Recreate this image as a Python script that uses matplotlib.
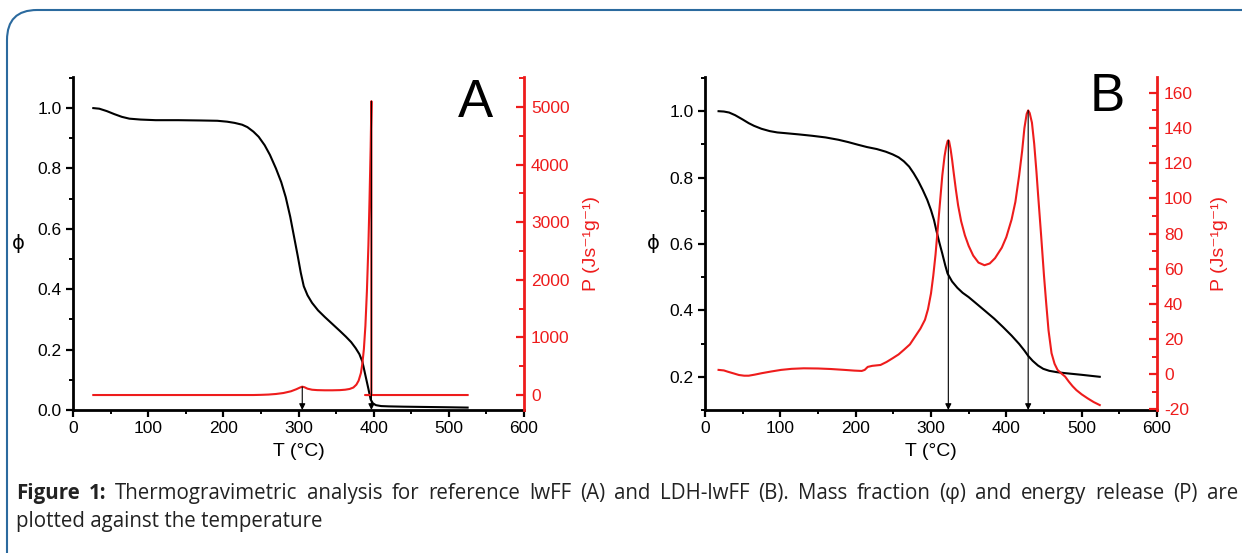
import matplotlib
matplotlib.use("Agg")
import matplotlib.pyplot as plt
from matplotlib.patches import FancyBboxPatch
from matplotlib.ticker import MultipleLocator, FormatStrFormatter

# ---------------- data ----------------
# Panel A (reference lwFF)
A_T_phi = [27, 35, 45, 55, 65, 75, 90, 110, 140, 170, 192, 205, 215, 225, 232, 240, 247, 255, 262, 270,
           277, 283, 289, 294, 299, 303, 307, 312, 318, 326, 335, 345, 355, 363, 370, 376, 381, 385, 389,
           393, 396, 399, 403, 410, 420, 440, 470, 500, 525]
A_phi = [1.0, 0.998, 0.990, 0.980, 0.971, 0.965, 0.962, 0.960, 0.960, 0.959, 0.958, 0.955, 0.951, 0.945,
         0.937, 0.922, 0.905, 0.877, 0.845, 0.80, 0.755, 0.705, 0.64, 0.575, 0.51, 0.455, 0.41, 0.38, 0.355,
         0.33, 0.308, 0.285, 0.262, 0.243, 0.225, 0.205, 0.185, 0.160, 0.115, 0.07, 0.035, 0.022, 0.016,
         0.013, 0.012, 0.011, 0.010, 0.009, 0.008]
A_T_P = [27, 100, 200, 240, 250, 260, 270, 280, 290, 297, 302, 305, 308, 312, 318, 325, 335, 345, 355, 362,
         368, 373, 377, 380, 383, 385, 387, 389, 391, 393, 394.5, 396, 397, 397, 389, 450, 525]
A_P = [0, 0, 0, 0, 3, 8, 18, 35, 65, 100, 130, 145, 135, 110, 92, 85, 82, 82, 85, 92,
       105, 130, 180, 250, 380, 550, 800, 1200, 1800, 2600, 3400, 4300, 5100, 0, 0, 0, 0]
A_arrows_T = [305, 397]
A_arrows_P = [140, 5100]

# Panel B (LDH-lwFF)
B_T_phi = [18, 25, 32, 40, 50, 58, 65, 75, 86, 96, 106, 125, 142, 160, 177, 190, 203, 215, 228, 240, 249,
           257, 264, 271, 277, 283, 289, 295, 300, 304, 307, 311, 315, 319, 322, 328, 335, 342, 350, 360,
           371, 384, 396, 407, 417, 424, 429, 435, 442, 449, 457, 467, 478, 500, 524]
B_phi = [1.0, 0.999, 0.996, 0.988, 0.975, 0.964, 0.956, 0.947, 0.940, 0.936, 0.934, 0.930, 0.926, 0.921,
         0.914, 0.907, 0.899, 0.892, 0.886, 0.878, 0.870, 0.861, 0.849, 0.833, 0.813, 0.790, 0.763, 0.733,
         0.702, 0.672, 0.642, 0.605, 0.571, 0.535, 0.511, 0.487, 0.468, 0.453, 0.440, 0.421, 0.400, 0.375,
         0.349, 0.324, 0.299, 0.279, 0.263, 0.248, 0.234, 0.224, 0.218, 0.214, 0.211, 0.206, 0.200]
B_T_P = [18, 25, 30, 38, 45, 52, 58, 66, 75, 88, 101, 115, 131, 150, 167, 185, 198, 208, 212, 216, 222,
         233, 241, 249, 257, 264, 272, 279, 286, 292, 296, 300, 303, 306, 309, 312, 315, 318, 320, 322,
         323, 324, 326, 328, 330, 333, 336, 340, 345, 350, 356, 363, 371, 378, 385, 394, 400, 407, 412,
         417, 421, 424, 427, 429, 431, 434, 437, 440, 442, 446, 450, 453, 456, 460, 464, 468, 473, 478,
         483, 488, 493, 500, 508, 516, 524]
B_P = [2.5, 2.2, 1.5, 0.5, -0.4, -0.8, -0.8, -0.2, 0.6, 1.6, 2.5, 3.1, 3.4, 3.3, 3.0, 2.5, 2.1, 1.9, 2.5,
       4.2, 4.8, 5.3, 7.0, 9.1, 11.3, 13.9, 17, 21.5, 26, 31, 37, 46, 56, 68, 83, 98, 113, 124, 129, 132.5,
       133, 132.5, 128, 122, 115, 105, 96, 87, 79, 73, 67.5, 63.5, 62, 63, 66, 72, 78, 88, 98,
       113, 127, 140, 148, 150, 148.5, 143, 131, 115, 103, 80, 56, 40, 25, 12, 6, 2.5, 0.5, -1.3,
       -4.2, -6.8, -9, -11.4, -13.7, -15.8, -17.5]
B_arrows_T = [323, 429]
B_arrows_P = [133, 150]

RED = '#ee1c1c'

plt.rcParams['font.family'] = ['Liberation Sans', 'DejaVu Sans']
plt.rcParams['axes.unicode_minus'] = False

W, H = 1242, 553
fig = plt.figure(figsize=(W / 100, H / 100), dpi=100)


def make_panel(rect, Tphi, phi, TP, P, arT, arP, phi_lim, phi_major, phi_minor,
               P_lim, P_major, P_minor, letter, letter_xy, phi_pad, p_pad):
    ax = fig.add_axes(rect)
    ax.plot(Tphi, phi, color='black', lw=1.5, zorder=3)
    ax.set_xlim(0, 600)
    ax.set_ylim(*phi_lim)
    ax.xaxis.set_major_locator(MultipleLocator(100))
    ax.xaxis.set_minor_locator(MultipleLocator(50))
    ax.yaxis.set_major_locator(MultipleLocator(phi_major))
    ax.yaxis.set_minor_locator(MultipleLocator(phi_minor))
    ax.yaxis.set_major_formatter(FormatStrFormatter('%.1f'))
    for s in ['top', 'right']:
        ax.spines[s].set_visible(False)
    for s in ['left', 'bottom']:
        ax.spines[s].set_linewidth(2.0)
    ax.tick_params(which='major', direction='out', length=5, width=1.6, labelsize=12.5, colors='black', pad=3)
    ax.tick_params(which='minor', direction='out', length=3, width=1.4)
    ax.set_xlabel('T (°C)', fontsize=14, labelpad=5)
    ax.set_ylabel('ϕ', fontsize=14, labelpad=phi_pad, rotation=0, va='center',
                  family=['DejaVu Sans'])
    ax.patch.set_alpha(0)

    ax2 = ax.twinx()
    ax2.plot(TP, P, color=RED, lw=1.5, zorder=2)
    ax2.set_ylim(*P_lim)
    ax2.yaxis.set_major_locator(MultipleLocator(P_major))
    ax2.yaxis.set_minor_locator(MultipleLocator(P_minor))
    for s in ['top', 'left', 'bottom']:
        ax2.spines[s].set_visible(False)
    ax2.spines['right'].set_color(RED)
    ax2.spines['right'].set_linewidth(2.0)
    ax2.tick_params(which='major', direction='in', length=6, width=1.6, labelsize=12.5,
                    colors=RED, pad=5)
    ax2.tick_params(which='minor', direction='in', length=3.5, width=1.4, colors=RED)
    ax2.set_ylabel('P (Js⁻¹g⁻¹)', fontsize=14, color=RED, labelpad=p_pad)

    for t, p in zip(arT, arP):
        ax2.annotate('', xy=(t, P_lim[0]), xytext=(t, p),
                     arrowprops=dict(arrowstyle='-|>', color='black', lw=0.8,
                                     mutation_scale=9, shrinkA=0, shrinkB=0))
    fig.text(letter_xy[0] / W, 1 - letter_xy[1] / H, letter, fontsize=38,
             ha='center', va='center', color='black')
    return ax, ax2


make_panel([73 / W, 1 - 410 / H, 451 / W, 333 / H], A_T_phi, A_phi, A_T_P, A_P,
           A_arrows_T, A_arrows_P, (0, 1.103), 0.2, 0.1, (-260, 5520), 1000, 500,
           'A', (475, 103), 14, 10)
make_panel([705 / W, 1 - 410 / H, 452 / W, 333 / H], B_T_phi, B_phi, B_T_P, B_P,
           B_arrows_T, B_arrows_P, (0.1, 1.103), 0.2, 0.1, (-20.3, 169), 20, 10,
           'B', (1107, 97), 12, 13)

# rounded border
box = FancyBboxPatch((7, -30), 1270, 543 + 30,
                     boxstyle='round,pad=0,rounding_size=30',
                     transform=None, fill=False, edgecolor='#2b6a9e', lw=1.5)
fig.patches.append(box)

# caption, justified first line
renderer = fig.canvas.get_renderer()
cap_words = ("Figure 1: Thermogravimetric analysis for reference lwFF (A) and LDH-lwFF (B). "
             "Mass fraction (φ) and energy release (P) are").split(' ')
cap_fs = 14.8
x_start, x_end = 16, 1238
objs = []
for i, w in enumerate(cap_words):
    t = fig.text(0, 1 - 499 / H, w, fontsize=cap_fs, family=['Open Sans', 'DejaVu Sans'],
                 fontweight='bold' if i < 2 else 'normal', color='#222222',
                 va='baseline', ha='left')
    objs.append(t)
widths = [o.get_window_extent(renderer).width for o in objs]
gap = (x_end - x_start - sum(widths)) / (len(objs) - 1)
x = x_start
for o, w in zip(objs, widths):
    o.set_x(x / W)
    x += w + gap
fig.text(x_start / W, 1 - 527 / H, 'plotted against the temperature', fontsize=cap_fs,
         family=['Open Sans', 'DejaVu Sans'], color='#222222', va='baseline', ha='left')

fig.savefig('out.png', dpi=100)
